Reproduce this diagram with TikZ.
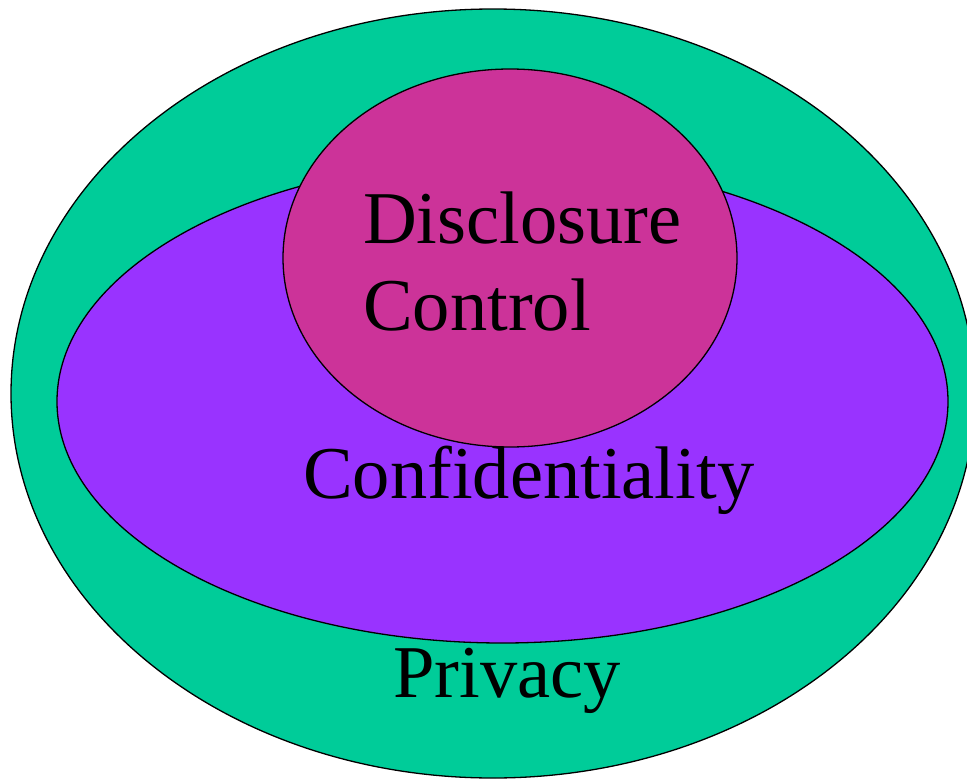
\documentclass[tikz,border=0pt]{standalone}
\usepackage{xcolor}
\usepackage{fontspec}
\setmainfont{Liberation Serif}
\usepackage{tikz}
\usetikzlibrary{positioning}

\definecolor{privgreen}{HTML}{00CC99}
\definecolor{confpurple}{HTML}{9933FF}
\definecolor{discmagenta}{HTML}{CC3399}

\tikzset{
  zone/.style={draw=black, line width=1.3pt},
  lbl/.style={anchor=base west, inner sep=0pt, font=\fontsize{74.5}{89}\selectfont}
}

\begin{document}
\begin{tikzpicture}[x=1pt, y=-1pt]
		\useasboundingbox (0,0) rectangle (967,779);
		\clip (0,0) rectangle (967,779);

		% privacy, confidentiality, disclosure control
		\draw[zone, fill=privgreen] (493,393.5) ellipse [x radius=482, y radius=384.5];
		\draw[zone, fill=confpurple] (502.5,401.5) ellipse [x radius=445.5, y radius=241.5];
		\draw[zone, fill=discmagenta] (510,258) ellipse [x radius=227, y radius=189];

		\node[lbl] (disc) at (363,243) {Disclosure};
		\node[lbl] (ctrl) at (363,330) {Control};
		\node[lbl] (conf) at (303,498) {Confidentiality};
		\node[lbl] (priv) at (393,697) {Privacy};
	\end{tikzpicture}
\end{document}
